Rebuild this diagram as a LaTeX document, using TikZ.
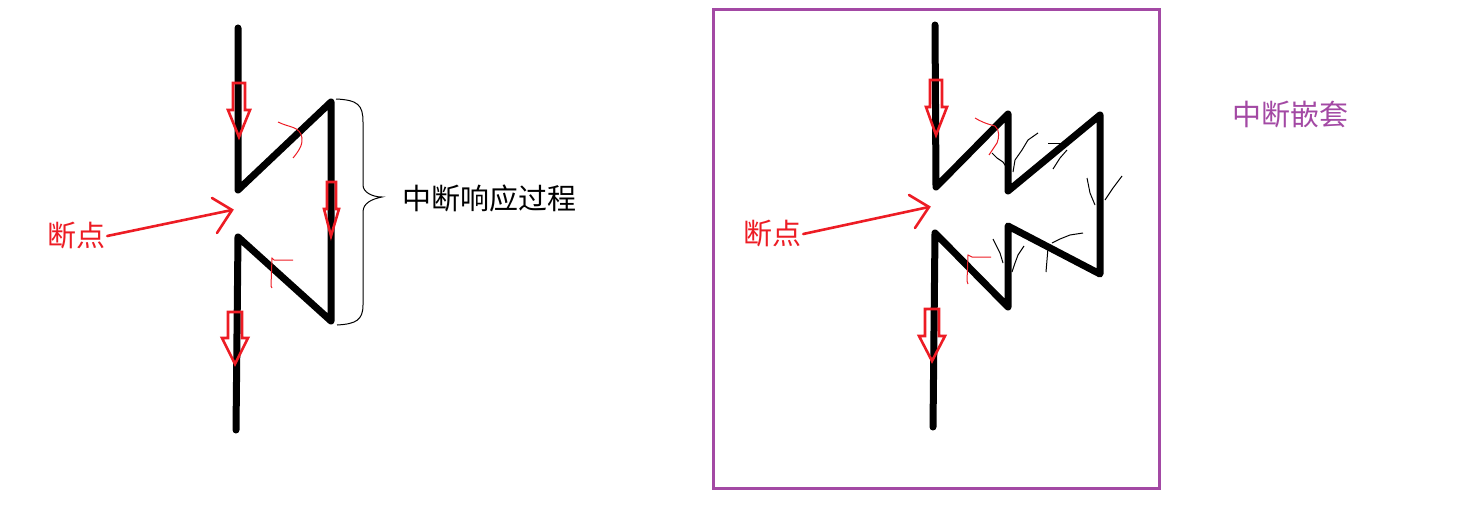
\documentclass[tikz,border=0pt]{standalone}
\usepackage{fontspec}
\newfontfamily\cjk{Noto Sans CJK SC}
\definecolor{pred}{HTML}{ED1C24}
\definecolor{ppurple}{HTML}{A349A4}
\tikzset{
  wire/.style={line width=7pt, line cap=round, line join=round, black},
  hollowarr/.style={draw=pred, line width=2.6pt, line join=miter},
  redline/.style={draw=pred, line width=2.6pt, line cap=round},
  sketchred/.style={draw=pred, line width=1pt},
  sketchblk/.style={draw=black, line width=1pt},
  lbl/.style={font=\cjk\fontsize{29}{29}\selectfont, inner sep=0pt},
}
\newcommand\myHollow[8]{% x, xr1,xr2, ytop, ybase, xh1, xh2, ytip
  \draw[hollowarr] (#2,#4) -- (#3,#4) -- (#3,#5) -- (#7,#5) -- (#1,#8) -- (#6,#5) -- (#2,#5) -- cycle;}
\begin{document}
\begin{tikzpicture}[x=1pt,y=-1pt]
\useasboundingbox (0,0) rectangle (1475,524);

% ---------- left diagram ----------
\coordinate (a0) at (238,28);
\coordinate (a1) at (238,190);
\coordinate (a2) at (331,102);
\coordinate (a3) at (331,321);
\coordinate (a4) at (238,237);
\coordinate (a5) at (236,430);
\draw[wire] (a0) -- (a1) -- (a2) -- (a3) -- (a4) -- (a5);

\myHollow{239}{233}{245}{83}{110}{228}{250}{137}
\myHollow{331}{327}{336}{182}{209}{324}{339}{236}
\myHollow{235}{228}{242}{312}{338}{222}{248}{364}

% sketch marks
\draw[sketchred] (278,122) .. controls (290,128) and (300,126) .. (302,138) .. controls (303,145) and (298,152) .. (293,158);
\draw[sketchred] (293,260) -- (274,260) -- (272,258) -- (271,286) -- (272,288);

% brace
\draw[black, line width=1pt] (336,99) .. controls (358,100) and (363,105) .. (363,122) -- (363,185)
  .. controls (363,192) and (372,197) .. (382,197)
  .. controls (372,199) and (363,203) .. (363,212) -- (363,305)
  .. controls (363,320) and (356,324) .. (337,325);

\node[lbl] (title1) at (489,198) {中断响应过程};

\node[lbl, text=pred] (bp1) at (76,236) {断点};
\coordinate (t1) at (232,210);
\coordinate (t1a) at (212,198);
\coordinate (t1b) at (217,233);
\draw[redline] ([xshift=2pt]bp1.east) -- (t1);
\draw[redline] (t1a) -- (t1) -- (t1b);

% ---------- right diagram ----------
\draw[ppurple, line width=3pt] (713,10) rectangle (1159,488);
\node[lbl, text=ppurple] (title2) at (1290,115) {中断嵌套};

\coordinate (b0) at (935,25);
\coordinate (b1) at (936,187);
\coordinate (b2) at (1008,114);
\coordinate (b3) at (1008,191);
\coordinate (b4) at (1100,115);
\coordinate (b5) at (1100,274);
\coordinate (b6) at (1008,226);
\coordinate (b7) at (1008,307);
\coordinate (b8) at (935,233);
\coordinate (b9) at (933,427);
\draw[wire] (b0) -- (b1) -- (b2) -- (b3) -- (b4) -- (b5) -- (b6) -- (b7) -- (b8) -- (b9);

\myHollow{936}{930}{942}{80}{107}{926}{947}{135}
\myHollow{932}{925}{939}{309}{336}{919}{945}{361}

\draw[sketchred] (975,118) .. controls (985,124) and (992,125) .. (995,126) .. controls (1000,130) and (999,138) .. (997,143) -- (989,155);
\draw[sketchred] (991,257) -- (972,257) -- (968,255) -- (967,281) -- (968,284);

\draw[sketchblk] (992,153) -- (997,158) -- (1003,162) -- (1007,168);
\draw[sketchblk] (1038,133) -- (1028,140) -- (1022,150) -- (1015,160) -- (1013,172);
\draw[sketchblk] (1048,144) -- (1065,144);
\draw[sketchblk] (1067,150) -- (1060,158) -- (1053,169);
\draw[sketchblk] (1087,178) -- (1090,193) -- (1095,205);
\draw[sketchblk] (1122,176) -- (1113,188) -- (1105,200);
\draw[sketchblk] (993,239) -- (997,247) -- (1000,253) -- (1003,263);
\draw[sketchblk] (1024,246) -- (1018,255) -- (1015,263) -- (1012,272);
\draw[sketchblk] (1083,233) -- (1070,235) -- (1060,239) -- (1052,243);
\draw[sketchblk] (1048,248) -- (1047,260) -- (1046,272);

\node[lbl, text=pred] (bp2) at (772,234) {断点};
\coordinate (t2) at (929,207);
\coordinate (t2a) at (909,195);
\coordinate (t2b) at (915,228);
\draw[redline] ([xshift=2pt]bp2.east) -- (t2);
\draw[redline] (t2a) -- (t2) -- (t2b);
\end{tikzpicture}
\end{document}
